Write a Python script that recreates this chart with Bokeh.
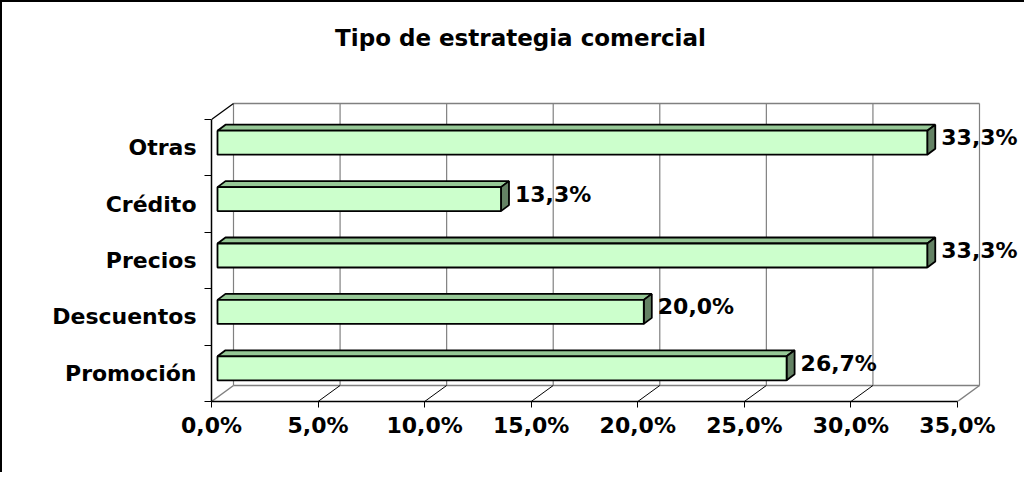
from bokeh.plotting import figure
from bokeh.models import FixedTicker, Range1d
from bokeh.core.properties import value
from bokeh.embed import file_html
from bokeh.resources import INLINE

# ---- data ----
categories = ["Promoción", "Descuentos", "Precios", "Crédito", "Otras"]
values = [26.7, 20.0, 33.3, 13.3, 33.3]
value_labels = ["26,7%", "20,0%", "33,3%", "13,3%", "33,3%"]
x_ticks = [0, 5, 10, 15, 20, 25, 30, 35]
x_tick_labels = ["0,0%", "5,0%", "10,0%", "15,0%", "20,0%", "25,0%", "30,0%", "35,0%"]
title_text = "Tipo de estrategia comercial"

# ---- layout constants ----
FONT = "DejaVu Sans"
FS = "22px"
W, H = 1024, 472
LEFT, BOTTOM, TOP = 209, 73, 0
frame_w = W - LEFT
frame_h = H - BOTTOM - TOP
SX = 746 / 35.0          # px per percent
SY = 282 / 5.0           # px per category slot
x_end = frame_w / SX
y_end = frame_h / SY
x_max = x_ticks[-1]
n = len(categories)

# 3D depth (wall) in data units
DX = 22 / SX
DY = 16 / SY
# bar geometry in data units
BX0 = 6 / SX
BY0 = 5 / SY
HH = 12 / SY
BDX = 8 / SX
BDY = 6 / SY

p = figure(width=W, height=H, x_range=Range1d(0, x_end), y_range=Range1d(0, y_end),
           output_backend="svg", toolbar_location=None,
           min_border_left=LEFT, min_border_right=0, min_border_top=TOP,
           min_border_bottom=BOTTOM)
p.outline_line_color = None
p.grid.visible = False
p.background_fill_color = "white"
p.border_fill_color = "white"
p.styles = {"border-left": "2px solid black", "border-top": "2px solid black"}

GRAY = "#808080"

# title (as text placed above the plotting walls)
p.text(x=[(520 - LEFT - 2) / SX], y=[(frame_h - 35) / SY], text=[title_text],
       text_align="center", text_baseline="middle",
       text_font=value(FONT), text_font_size="23px", text_font_style="bold", text_color="black")

# back wall vertical grid lines
p.segment(x0=[t + DX for t in x_ticks], y0=[DY] * len(x_ticks),
          x1=[t + DX for t in x_ticks], y1=[n + DY] * len(x_ticks),
          line_color=GRAY, line_width=1.2)
# back wall top and floor back edge
p.segment(x0=[DX, DX], y0=[n + DY, DY], x1=[x_max + DX, x_max + DX], y1=[n + DY, DY],
          line_color=GRAY, line_width=1.5)
# floor diagonals from front ticks
inner = x_ticks[1:-1]
p.segment(x0=inner, y0=[0] * len(inner), x1=[t + DX for t in inner], y1=[DY] * len(inner),
          line_color="black", line_width=1)
p.segment(x0=[x_ticks[0], x_ticks[-1]], y0=[0, 0],
          x1=[x_ticks[0] + DX, x_ticks[-1] + DX], y1=[DY, DY],
          line_color=GRAY, line_width=1.5)
# left wall top diagonal
p.segment(x0=[0], y0=[n], x1=[DX], y1=[n + DY], line_color="black", line_width=1.2)

# bars (3D boxes)
L = [BX0] * n
R = [v + BX0 for v in values]
B = [i + 0.5 + BY0 - HH for i in range(n)]
T = [i + 0.5 + BY0 + HH for i in range(n)]
top_xs = [[l, r, r + BDX, l + BDX] for l, r in zip(L, R)]
top_ys = [[t, t, t + BDY, t + BDY] for t in T]
side_xs = [[r, r + BDX, r + BDX, r] for r in R]
side_ys = [[b, b + BDY, t + BDY, t] for b, t in zip(B, T)]
p.patches(xs=top_xs, ys=top_ys, fill_color="#96C896", line_color="black", line_width=1.8)
p.patches(xs=side_xs, ys=side_ys, fill_color="#648264", line_color="black", line_width=1.8)
p.quad(left=L, right=R, bottom=B, top=T, fill_color="#CCFFCC", line_color="black", line_width=1.8)

# value labels
p.text(x=[r + BDX for r in R], y=[i + 0.5 + BY0 for i in range(n)], text=value_labels,
       x_offset=6, y_offset=-5, text_align="left", text_baseline="middle",
       text_font=value(FONT), text_font_size=FS, text_font_style="bold", text_color="black")

# x axis
xa = p.xaxis[0]
xa.ticker = FixedTicker(ticks=x_ticks, minor_ticks=[])
xa.bounds = (0, x_max)
xa.major_label_overrides = {t: lab for t, lab in zip(x_ticks, x_tick_labels)}
xa.axis_line_color = "black"
xa.axis_line_width = 1.5
xa.major_tick_out = 6
xa.major_tick_in = 0
xa.major_tick_line_color = "black"
xa.minor_tick_line_color = None
xa.major_label_standoff = 5
xa.major_label_text_font = FONT
xa.major_label_text_font_size = FS
xa.major_label_text_font_style = "bold"
xa.major_label_text_color = "black"

# y axis
ya = p.yaxis[0]
ya.ticker = FixedTicker(ticks=[i + 0.5 for i in range(n)], minor_ticks=list(range(n + 1)))
ya.bounds = (0, n)
ya.major_label_overrides = {i + 0.5: c for i, c in enumerate(categories)}
ya.axis_line_color = "black"
ya.axis_line_width = 1.5
ya.major_tick_out = 0
ya.major_tick_in = 0
ya.minor_tick_out = 7
ya.minor_tick_in = 0
ya.minor_tick_line_color = "black"
ya.major_label_standoff = 8
ya.major_label_text_font = FONT
ya.major_label_text_font_size = FS
ya.major_label_text_font_style = "bold"
ya.major_label_text_color = "black"

open("out.html", "w").write(file_html(p, INLINE))
